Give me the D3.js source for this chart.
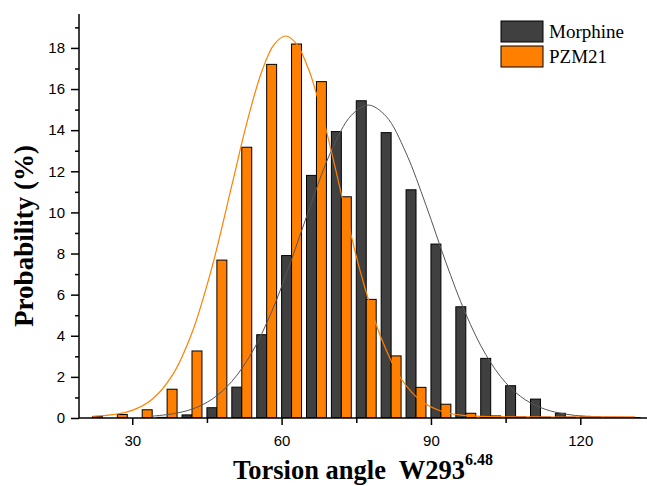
<!DOCTYPE html>
<html>
<head>
<meta charset="utf-8">
<script src="https://cdn.jsdelivr.net/npm/d3@7"></script>
<style>
body { margin: 0; background: #fff; }
text { font-family: "Liberation Sans", Arial, sans-serif; fill: #000; }
.serif { font-family: "Liberation Serif", "Times New Roman", serif; }
</style>
</head>
<body>
<svg id="chart" width="647" height="486"></svg>
<script>
// left edge of each 5 degree bin
bins = [20, 25, 30, 35, 40, 45, 50, 55, 60, 65, 70, 75, 80, 85, 90, 95, 100, 105, 110, 115, 120, 125, 130]
morphine = [0, 0, 0, 0.03, 0.15, 0.5, 1.5, 4.05, 7.9, 11.8, 13.93, 15.43, 13.88, 11.1, 8.46, 5.41, 2.9, 1.57, 0.92, 0.23, 0.08, 0.03, 0.02]
pzm21 = [0.07, 0.17, 0.4, 1.4, 3.26, 7.68, 13.17, 17.2, 18.19, 16.36, 10.76, 5.77, 3.02, 1.49, 0.67, 0.23, 0.1, 0.05, 0.04, 0.04, 0.05, 0.03, 0]

// gaussian fit lines
morphineFitX = [34, 38, 42, 46, 50, 54, 58, 62, 66, 70, 74, 77.4, 81, 85, 89, 93, 97, 101, 105, 109, 113, 117, 121, 125, 131]
morphineFitY = [0.09, 0.20, 0.43, 0.91, 1.78, 3.17, 5.17, 7.71, 10.48, 13.01, 14.72, 15.22, 14.67, 12.89, 10.35, 7.57, 5.06, 3.09, 1.72, 0.88, 0.42, 0.19, 0.08, 0.04, 0.02]
pzmFitX = [22, 26, 30, 34, 38, 42, 46, 50, 53, 56, 58.5, 60.8, 63, 65.5, 68, 70.5, 73, 76, 80, 84, 88, 92, 96, 100, 105, 110, 120, 131]
pzmFitY = [0.08, 0.16, 0.37, 0.91, 2.06, 4.15, 7.32, 11.31, 14.34, 16.84, 18.17, 18.58, 18.20, 16.91, 14.90, 12.45, 9.86, 6.96, 3.89, 1.91, 0.84, 0.34, 0.14, 0.08, 0.06, 0.05, 0.05, 0.05]

xTicks = [30, 60, 90, 120]
xMinor = [45, 75, 105]
yTicks = [0, 2, 4, 6, 8, 10, 12, 14, 16, 18]
yMinor = [1, 3, 5, 7, 9, 11, 13, 15, 17, 19]
seriesNames = ["Morphine", "PZM21"]
colors = ["#404040", "#ff8000"]
barWidth = 2   // degrees

svg = d3.select('#chart')

x = d3.scaleLinear().domain([19.3, 133.4]).range([79, 647])
y = d3.scaleLinear().domain([0, 19.65]).range([418, 14])

svg.append('defs').append('clipPath').attr('id', 'plot')
  .append('rect').attr('x', 79).attr('y', 0).attr('width', 568).attr('height', 418)

plot = svg.append('g').attr('clip-path', 'url(#plot)')

// bars: morphine on the left half, pzm21 right next to it
var groups = [morphine, pzm21]
groups.forEach(function(vals, k) {
  plot.selectAll('.bar' + k).data(bins.map(function(b, i) { return {bin: b, v: vals[i]} }))
    .enter()
    .filter(function(d) { return d.v > 0 })
    .append('rect')
    .attr('class', 'bar' + k)
    .attr('x', function(d) { return x(d.bin + k * barWidth) })
    .attr('width', function(d) { return x(d.bin + (k + 1) * barWidth) - x(d.bin + k * barWidth) })
    .attr('y', function(d) { return y(d.v) })
    .attr('height', function(d) { return y(0) - y(d.v) })
    .attr('fill', colors[k])
    .attr('stroke', '#000')
    .attr('stroke-width', 1)
})

line = d3.line()
  .x(function(d) { return x(d[0]) })
  .y(function(d) { return y(d[1]) })
  .curve(d3.curveCatmullRom.alpha(0.5))

plot.append('path')
  .datum(d3.zip(morphineFitX, morphineFitY))
  .attr('d', line)
  .attr('fill', 'none')
  .attr('stroke', '#555')
  .attr('stroke-width', 1)

plot.append('path')
  .datum(d3.zip(pzmFitX, pzmFitY))
  .attr('d', line)
  .attr('fill', 'none')
  .attr('stroke', colors[1])
  .attr('stroke-width', 1.2)

// axes
xAxis = svg.append('g').attr('transform', 'translate(0,418)')
  .call(d3.axisBottom(x).tickValues(xTicks).tickSize(7).tickPadding(10).tickFormat(d3.format('d')))
svg.append('g').attr('transform', 'translate(0,418)')
  .call(d3.axisBottom(x).tickValues(xMinor).tickSize(5).tickFormat(''))
  .select('.domain').remove()

yAxis = svg.append('g').attr('transform', 'translate(79,0)')
  .call(d3.axisLeft(y).tickValues(yTicks).tickSize(8).tickPadding(6))
svg.append('g').attr('transform', 'translate(79,0)')
  .call(d3.axisLeft(y).tickValues(yMinor).tickSize(4).tickFormat(''))
  .select('.domain').remove()

svg.selectAll('.domain').attr('stroke-width', 1.5)
svg.selectAll('.tick line').attr('stroke-width', 1.5)
svg.selectAll('.tick text').style('font-size', '15px')
svg.selectAll('.domain').attr('d', function() {
  return d3.select(this.parentNode).attr('transform') == 'translate(79,0)' ? 'M0,418V14' : 'M79,0H647'
})

// axis titles
svg.append('text')
  .attr('class', 'serif')
  .attr('transform', 'translate(33,236) rotate(-90)')
  .attr('text-anchor', 'middle')
  .style('font-size', '27px')
  .style('font-weight', 'bold')
  .text('Probability (%)')

xt = svg.append('text')
  .attr('class', 'serif')
  .attr('x', 233).attr('y', 479)
  .style('font-size', '26.5px')
  .style('font-weight', 'bold')
  .attr('xml:space', 'preserve')
xt.append('tspan').text('Torsion angle  W293')
xt.append('tspan').attr('dy', -14).style('font-size', '16px').text('6.48')

// legend
legend = svg.selectAll('.legend').data(seriesNames).enter()
  .append('g').attr('class', 'legend')
  .attr('transform', function(d, i) { return 'translate(501,' + (21 + i * 25) + ')' })
legend.append('rect')
  .attr('width', 42).attr('height', 21)
  .attr('fill', function(d, i) { return colors[i] })
  .attr('stroke', '#000').attr('stroke-width', 1)
legend.append('text')
  .attr('class', 'serif')
  .attr('x', 48).attr('y', 17)
  .style('font-size', '19px')
  .text(function(d) { return d })
</script>
</body>
</html>
